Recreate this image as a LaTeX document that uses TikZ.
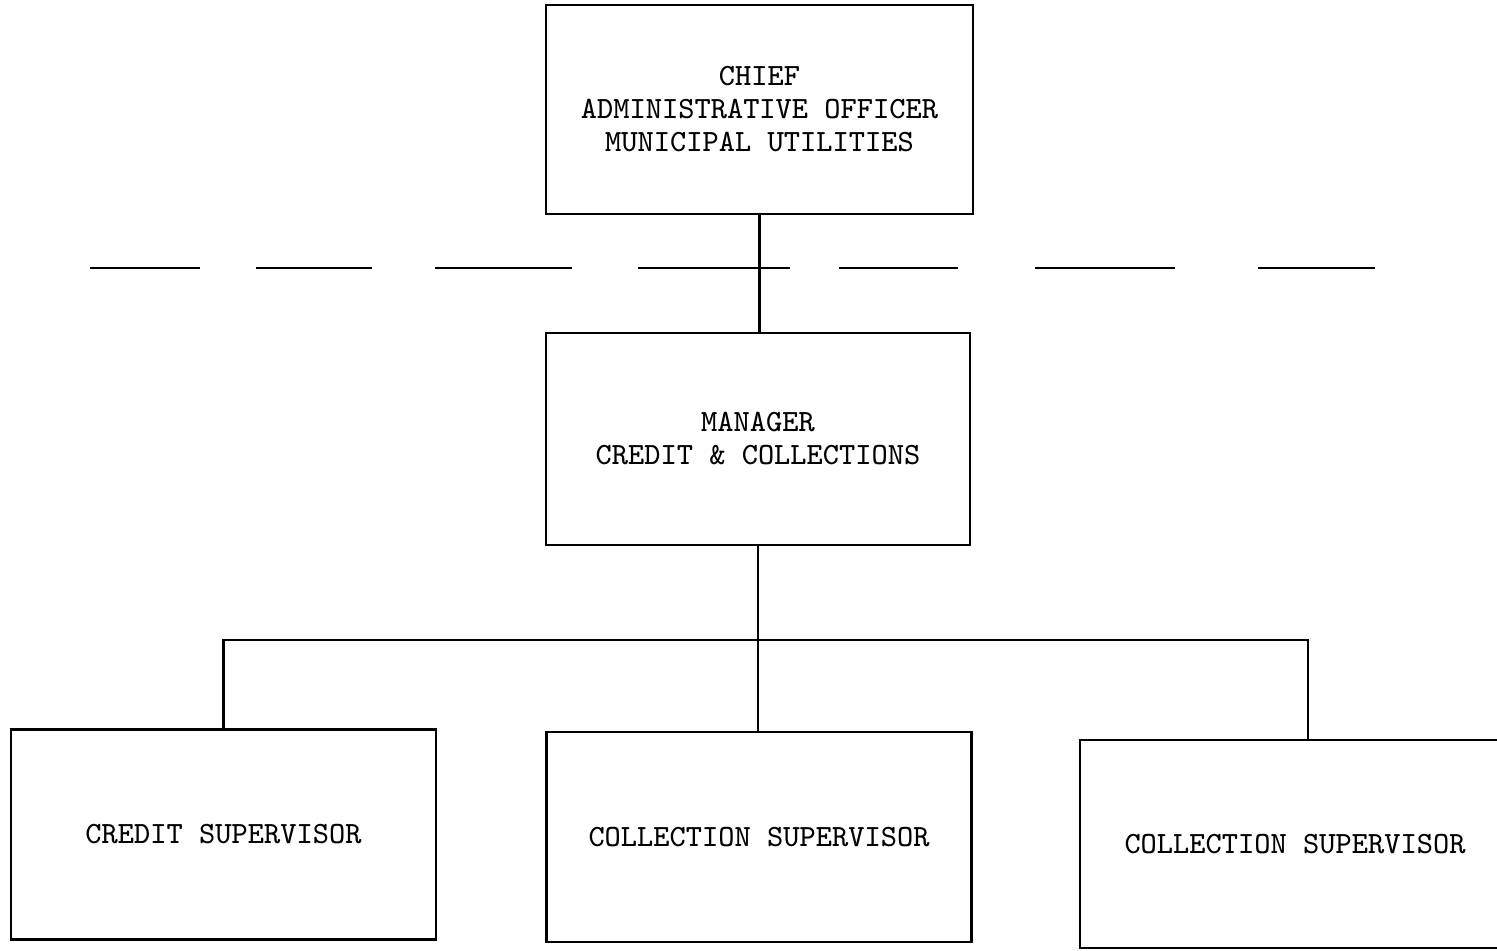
\documentclass[tikz,border=0pt]{standalone}
\usetikzlibrary{positioning}
\tikzset{
  post/.style={draw,line width=0.75pt,align=center,inner sep=0pt,
    minimum width=4.25cm,minimum height=2.1cm,
    font=\ttfamily\fontsize{8.8pt}{9.4pt}\selectfont},
  link/.style={line width=0.75pt},
  border/.style={line width=0.75pt,line cap=butt}
}
\begin{document}
\begin{tikzpicture}
                \useasboundingbox (0,0) rectangle (14.97,-9.51);
                % boxes
                \node[post,minimum width=4.27cm,minimum height=2.09cm] (chief) at (7.595,-1.095) {CHIEF\\ADMINISTRATIVE OFFICER\\MUNICIPAL UTILITIES};
                \node[post,minimum width=4.24cm,minimum height=2.12cm] (mgr) at (7.58,-4.39) {MANAGER\\CREDIT \& COLLECTIONS};
                \node[post] (credit) at (2.235,-8.345) {CREDIT SUPERVISOR};
                \node[post] (coll) at (7.59,-8.37) {COLLECTION SUPERVISOR};
                \node[post,minimum height=2.08cm,minimum width=4.3cm] (collb) at (12.95,-8.44) {COLLECTION SUPERVISOR};
                % dashed boundary
                \foreach \a/\b in {0.90/2.00,2.56/3.72,4.35/5.72,6.38/7.90,8.39/9.58,10.35/11.75,12.58/13.75}
                  \draw[border] (\a,-2.68) -- (\b,-2.68);
                % lines
                \draw[link] (chief.south) -- (chief.south |- mgr.north);
                \draw[link] (mgr.south) -- ++(0,-0.95) coordinate (bus);
                \coordinate (tap) at (13.08,-6.40);
                \draw[link] (credit.north) |- (tap) -- (tap |- collb.north);
                \draw[link] (bus) -- (bus |- coll.north);
            \end{tikzpicture}
\end{document}
